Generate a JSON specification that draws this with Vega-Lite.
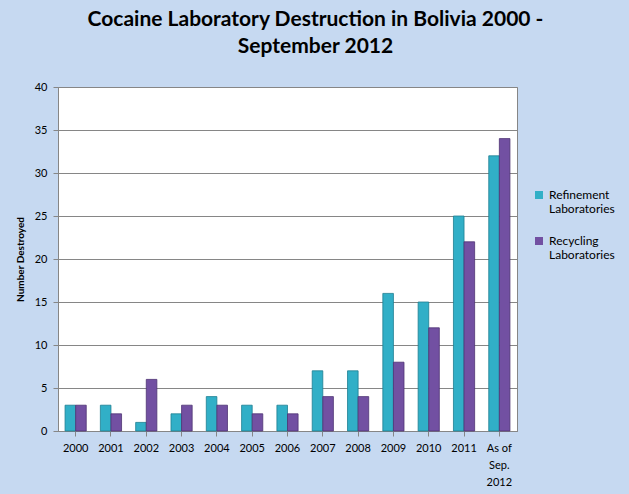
{
  "$schema": "https://vega.github.io/schema/vega-lite/v6.json",
  "width": 459,
  "height": 344,
  "autosize": {"type": "none"},
  "padding": {"left": 58, "top": 87, "right": 112, "bottom": 63},
  "background": "#C6D9F1",
  "config": {
    "font": "Lato",
    "view": {"fill": "white", "stroke": "#868686"}
  },
  "title": {
    "text": ["Cocaine Laboratory Destruction in Bolivia 2000 -", "September 2012"],
    "fontSize": 21,
    "fontWeight": "bold",
    "color": "#000000",
    "lineHeight": 27,
    "anchor": "middle",
    "dx": 28,
    "offset": 24
  },
  "data": {
    "values": [
      {"year": "2000", "type": "Refinement Laboratories", "count": 3},
      {"year": "2000", "type": "Recycling Laboratories", "count": 3},
      {"year": "2001", "type": "Refinement Laboratories", "count": 3},
      {"year": "2001", "type": "Recycling Laboratories", "count": 2},
      {"year": "2002", "type": "Refinement Laboratories", "count": 1},
      {"year": "2002", "type": "Recycling Laboratories", "count": 6},
      {"year": "2003", "type": "Refinement Laboratories", "count": 2},
      {"year": "2003", "type": "Recycling Laboratories", "count": 3},
      {"year": "2004", "type": "Refinement Laboratories", "count": 4},
      {"year": "2004", "type": "Recycling Laboratories", "count": 3},
      {"year": "2005", "type": "Refinement Laboratories", "count": 3},
      {"year": "2005", "type": "Recycling Laboratories", "count": 2},
      {"year": "2006", "type": "Refinement Laboratories", "count": 3},
      {"year": "2006", "type": "Recycling Laboratories", "count": 2},
      {"year": "2007", "type": "Refinement Laboratories", "count": 7},
      {"year": "2007", "type": "Recycling Laboratories", "count": 4},
      {"year": "2008", "type": "Refinement Laboratories", "count": 7},
      {"year": "2008", "type": "Recycling Laboratories", "count": 4},
      {"year": "2009", "type": "Refinement Laboratories", "count": 16},
      {"year": "2009", "type": "Recycling Laboratories", "count": 8},
      {"year": "2010", "type": "Refinement Laboratories", "count": 15},
      {"year": "2010", "type": "Recycling Laboratories", "count": 12},
      {"year": "2011", "type": "Refinement Laboratories", "count": 25},
      {"year": "2011", "type": "Recycling Laboratories", "count": 22},
      {"year": "As of Sep. 2012", "type": "Refinement Laboratories", "count": 32},
      {"year": "As of Sep. 2012", "type": "Recycling Laboratories", "count": 34}
    ]
  },
  "mark": {"type": "bar", "strokeWidth": 0.8},
  "encoding": {
    "x": {
      "field": "year",
      "type": "nominal",
      "sort": null,
      "scale": {"paddingInner": 0.4, "paddingOuter": 0.2},
      "axis": {
        "title": null,
        "labelAngle": 0,
        "labelFontSize": 11,
        "labelColor": "#000000",
        "labelPadding": 6,
        "labelLineHeight": 17,
        "labelExpr": "datum.value == 'As of Sep. 2012' ? ['As of', 'Sep.', '2012'] : datum.value",
        "domainColor": "#868686",
        "tickColor": "#868686",
        "tickSize": 5
      }
    },
    "xOffset": {
      "field": "type",
      "type": "nominal",
      "sort": ["Refinement Laboratories", "Recycling Laboratories"]
    },
    "y": {
      "field": "count",
      "type": "quantitative",
      "scale": {"domain": [0, 40]},
      "axis": {
        "title": "Number Destroyed",
        "titleFontSize": 10,
        "titleFontWeight": "bold",
        "titleColor": "#000000",
        "titlePadding": 9,
        "values": [0, 5, 10, 15, 20, 25, 30, 35, 40],
        "labelFontSize": 11,
        "labelColor": "#000000",
        "labelPadding": 6,
        "gridColor": "#868686",
        "domainColor": "#868686",
        "tickColor": "#868686",
        "tickSize": 5
      }
    },
    "color": {
      "field": "type",
      "type": "nominal",
      "sort": ["Refinement Laboratories", "Recycling Laboratories"],
      "scale": {"range": ["#31AFC7", "#7250A2"]},
      "legend": {
        "title": null,
        "orient": "none",
        "legendX": 475,
        "legendY": 102,
        "symbolType": "square",
        "symbolSize": 64,
        "symbolStrokeWidth": 0,
        "labelFontSize": 12,
        "labelColor": "#000000",
        "labelLineHeight": 17,
        "labelExpr": "split(datum.label, ' ')",
        "rowPadding": 20,
        "labelLimit": 200
      }
    },
    "stroke": {
      "field": "type",
      "type": "nominal",
      "sort": ["Refinement Laboratories", "Recycling Laboratories"],
      "scale": {"range": ["#1E7F92", "#4E3473"]},
      "legend": null
    }
  }
}
